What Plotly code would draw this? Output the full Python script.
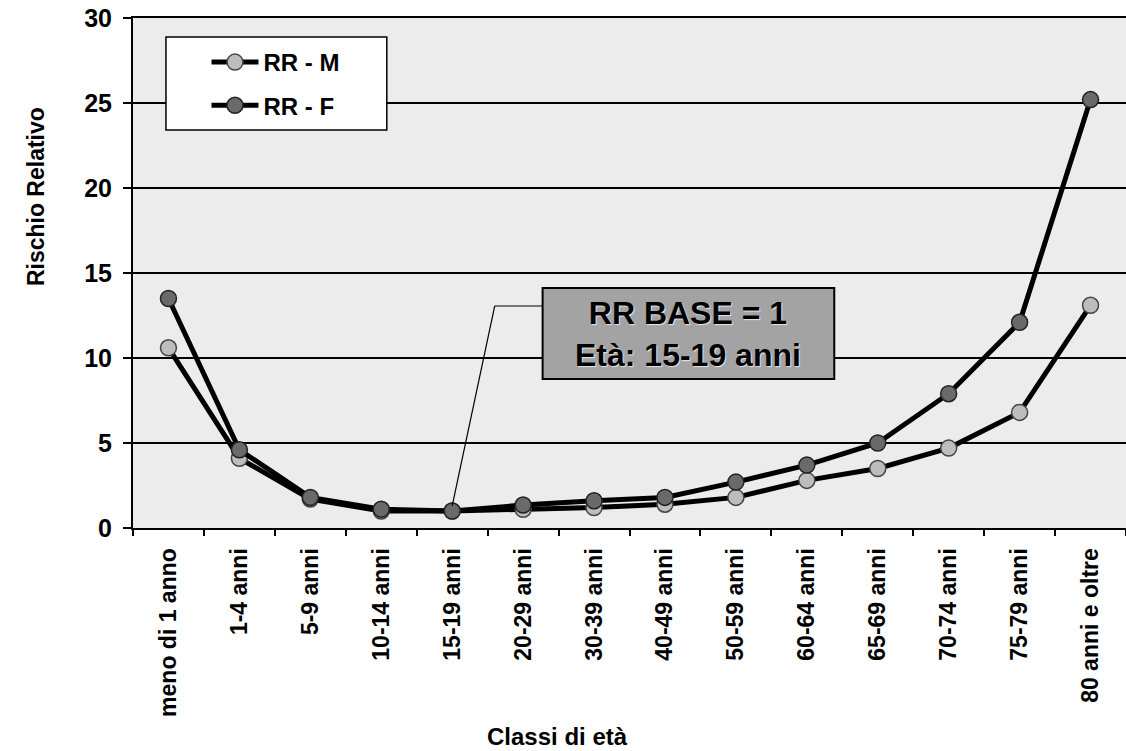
import plotly.graph_objects as go

# Age classes and relative risk (reference class 15-19 = 1)
classi = ["meno di 1 anno", "1-4 anni", "5-9 anni", "10-14 anni", "15-19 anni",
          "20-29 anni", "30-39 anni", "40-49 anni", "50-59 anni", "60-64 anni",
          "65-69 anni", "70-74 anni", "75-79 anni", "80 anni e oltre"]
rr_m = [10.6, 4.1, 1.7, 1.0, 1.0, 1.1, 1.2, 1.4, 1.8, 2.8, 3.5, 4.7, 6.8, 13.1]
rr_f = [13.5, 4.6, 1.8, 1.1, 1.0, 1.35, 1.6, 1.8, 2.7, 3.7, 5.0, 7.9, 12.1, 25.2]
y_ticks = [0, 5, 10, 15, 20, 25, 30]
base_idx = classi.index("15-19 anni")

FONT = "Liberation Sans, Arial, sans-serif"

fig = go.Figure()
fig.add_trace(go.Scatter(
    x=classi, y=rr_m, name="RR - M", legendgroup="m", mode="lines+markers",
    line=dict(color="black", width=5),
    marker=dict(size=16, color="#bdbdbd", line=dict(color="#444444", width=1.5)),
))
fig.add_trace(go.Scatter(
    x=classi, y=rr_f, name="RR - F", legendgroup="f", mode="lines+markers",
    line=dict(color="black", width=5),
    marker=dict(size=16, color="#6a6a6a", line=dict(color="#222222", width=1.5)),
))

# legend frame
fig.add_shape(type="rect", xref="paper", yref="paper",
              x0=0.0332, x1=0.2556, y0=(528 - 130) / 510, y1=(528 - 37) / 510,
              fillcolor="white", line=dict(color="black", width=1.5), layer="above")

# "RR BASE" callout box and its leader line to the base class
bx0, bx1, by0, by1 = 5.275, 9.387, 8.76, 14.12
fig.add_shape(type="rect", x0=bx0, x1=bx1, y0=by0, y1=by1,
              fillcolor="#a3a3a3", line=dict(color="black", width=2), layer="above")
fig.add_shape(type="line", x0=bx0, x1=4.6, y0=13.06, y1=13.06,
              line=dict(color="black", width=1.2), layer="above")
fig.add_shape(type="line", x0=4.6, x1=base_idx, y0=13.06, y1=rr_f[base_idx] + 0.3,
              line=dict(color="black", width=1.2), layer="above")
fig.add_annotation(x=(bx0 + bx1) / 2, y=(by0 + by1) / 2, text="RR BASE = 1<br>Età: 15-19 anni",
                   showarrow=False, align="center",
                   font=dict(family=FONT, size=32, color="black", weight="bold",
                             shadow="1px 1px 1px #e8e8e8"))

# axis titles
fig.add_annotation(xref="paper", yref="paper", x=(36 - 133) / 994, y=(528 - 197) / 510,
                   xanchor="center", yanchor="middle",
                   text="Rischio Relativo", textangle=-90, showarrow=False,
                   font=dict(family=FONT, size=23, color="black", weight="bold"))
fig.add_annotation(xref="paper", yref="paper", x=(558 - 133) / 994, y=(528 - 737) / 510,
                   xanchor="center", yanchor="middle",
                   text="Classi di età", showarrow=False,
                   font=dict(family=FONT, size=24, color="black", weight="bold"))

fig.update_layout(
    width=1126, height=751,
    margin=dict(l=133, r=0, t=18, b=223),
    paper_bgcolor="white", plot_bgcolor="#ececec",
    showlegend=True,
    legend=dict(x=0.074, y=(528 - 40) / 510, xanchor="left", yanchor="top",
                bgcolor="rgba(0,0,0,0)", borderwidth=0, itemwidth=47,
                tracegroupgap=9,
                font=dict(family=FONT, size=24, color="black", weight="bold")),
    xaxis=dict(type="category", tickson="boundaries", ticks="outside", ticklen=6,
               tickwidth=1.5, tickcolor="black", tickangle=-90,
               showline=True, linecolor="black", linewidth=2, mirror=True,
               showgrid=False, range=[-0.5, len(classi) - 0.5],
               ticklabelstandoff=9,
               tickfont=dict(family=FONT, size=23, color="black", weight="bold")),
    yaxis=dict(range=[0, 30], tickvals=y_ticks, ticks="outside", ticklen=8,
               tickwidth=1.5, tickcolor="black",
               showline=True, linecolor="black", linewidth=2,
               showgrid=True, gridcolor="black", gridwidth=1.5, zeroline=False,
               ticklabelstandoff=6,
               tickfont=dict(family=FONT, size=25, color="black", weight="bold")),
)

fig.write_html("out.html")
